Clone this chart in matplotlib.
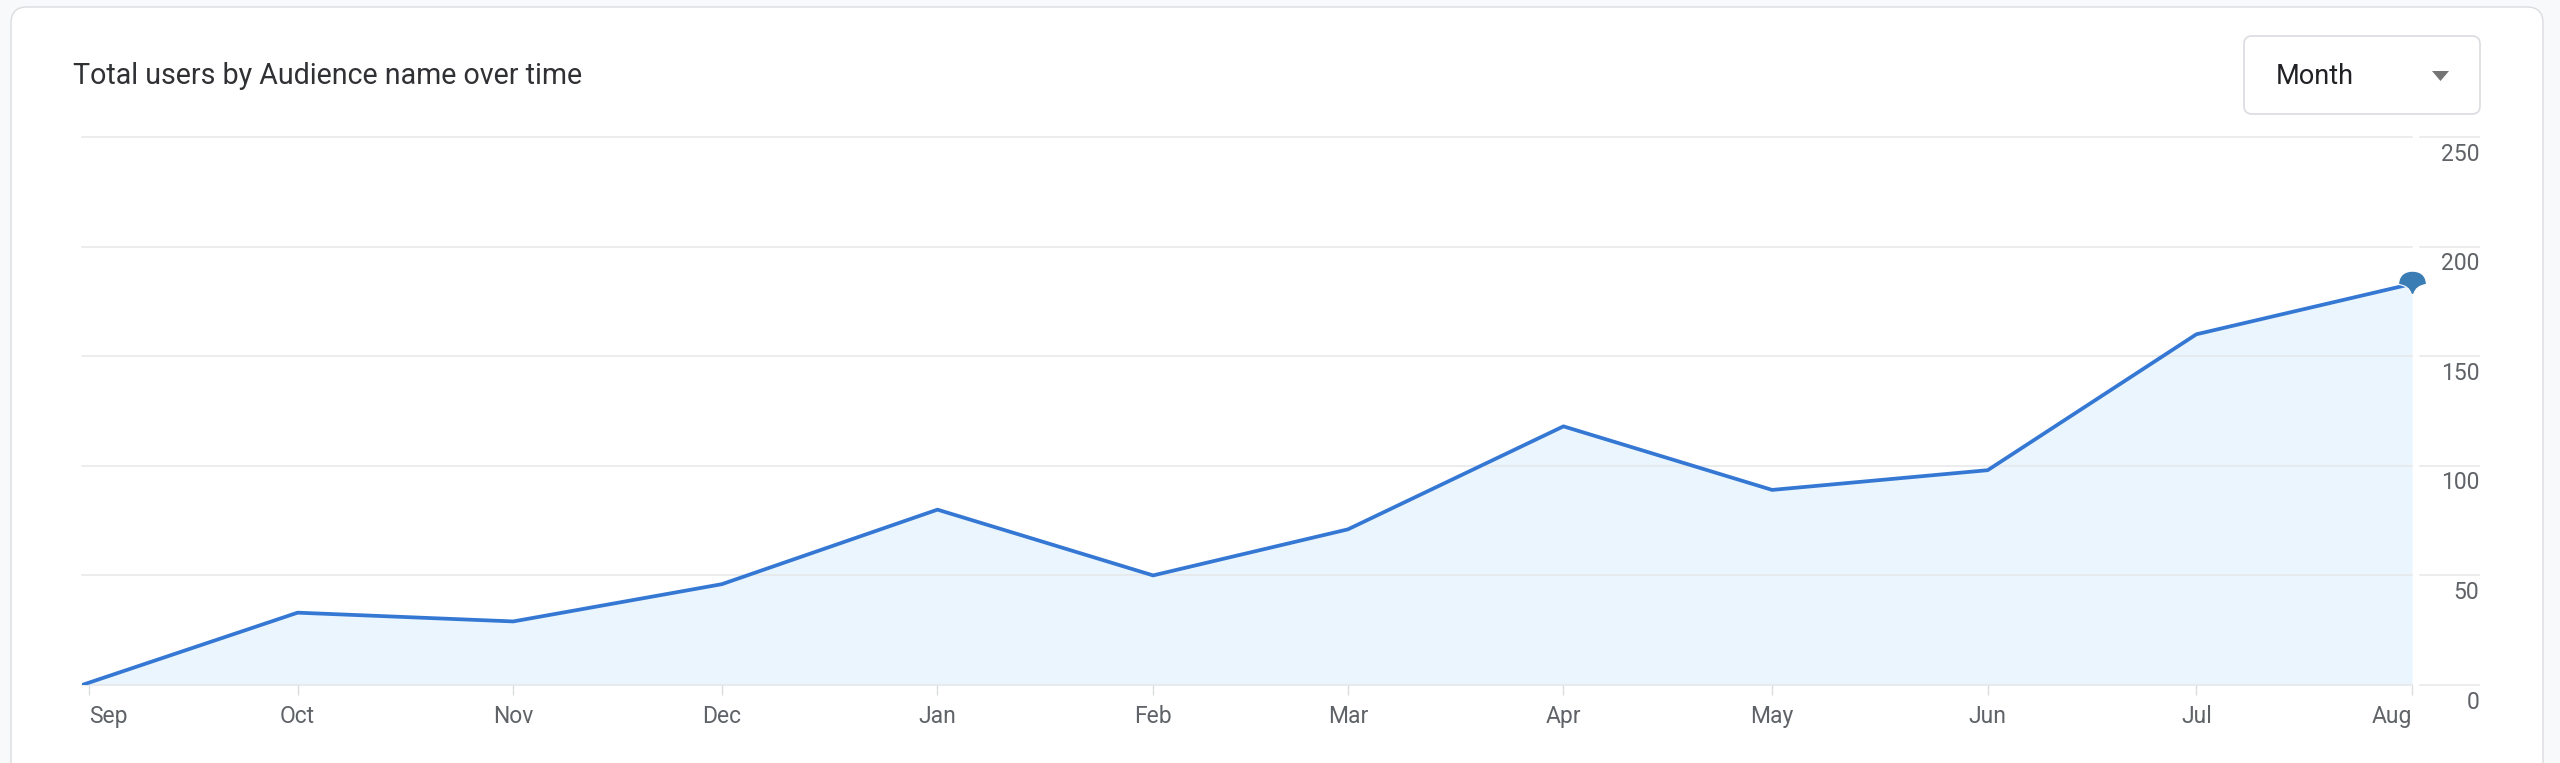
# -*- coding: utf-8 -*-
import numpy as np
import matplotlib
matplotlib.use('Agg')
import matplotlib.pyplot as plt
import matplotlib.dates as mdates
import matplotlib.transforms as mtransforms
from matplotlib.patches import FancyBboxPatch, Polygon
from matplotlib.path import Path

plt.rcParams['font.family'] = ['Roboto', 'DejaVu Sans']

# data (monthly buckets, first bucket starts on 31 Aug)
point_dates = ['2022-08-31', '2022-10-01', '2022-11-01', '2022-12-01',
               '2023-01-01', '2023-02-01', '2023-03-01', '2023-04-01',
               '2023-05-01', '2023-06-01', '2023-07-01', '2023-08-01']
users = [0, 33, 29, 46, 80, 50, 71, 118, 89, 98, 160, 183]

tick_dates = ['2022-09-01', '2022-10-01', '2022-11-01', '2022-12-01',
              '2023-01-01', '2023-02-01', '2023-03-01', '2023-04-01',
              '2023-05-01', '2023-06-01', '2023-07-01', '2023-08-01']
tick_labels = ['Sep', 'Oct', 'Nov', 'Dec', 'Jan', 'Feb', 'Mar', 'Apr',
               'May', 'Jun', 'Jul', 'Aug']
y_ticks = [0, 50, 100, 150, 200, 250]

title = 'Total users by Audience name over time'

x = mdates.datestr2num(point_dates)
xt = mdates.datestr2num(tick_dates)

W, H = 2560, 763
fig = plt.figure(figsize=(W / 100, H / 100), dpi=100)
fig.patch.set_facecolor('#f8f9fa')
ident = mtransforms.IdentityTransform()

# card (behind the axes)
card = FancyBboxPatch((11, -40), 2532, H - 7 + 40,
                      boxstyle='round,pad=0,rounding_size=16',
                      transform=ident, fc='white', ec='#dadce0', lw=1,
                      zorder=-5)
fig.add_artist(card)

# axes
ax = fig.add_axes([82 / W, 78 / H, 2330 / W, 548 / H])
ax.set_zorder(2)
ax.set_facecolor('none')
for s in ax.spines.values():
    s.set_visible(False)
ax.set_xlim(x[0], x[-1])
ax.set_ylim(0, 250)
ax.set_yticks([])

grid_c = '#e6e7e9'
trans = mtransforms.blended_transform_factory(ax.transAxes, ax.transData)
for v in y_ticks:
    ax.axhline(v, color=grid_c, lw=1.1, zorder=1.5, clip_on=False)
    ax.plot([1.0034, 1.0288], [v, v], transform=trans, color=grid_c,
            lw=1.1, clip_on=False)
    ax.annotate(str(v), xy=(1.0288, v), xycoords=trans, xytext=(0, -17),
                textcoords='offset points', ha='right', va='baseline',
                fontsize=16.5, color='#5f6368')

# area + line
ax.fill_between(x, users, 0, color='#eaf5fd', lw=0, zorder=1)
ax.plot(x, users, color='#3578d4', lw=2.7, zorder=3,
        solid_joinstyle='round', solid_capstyle='round')

# pin marker at the last point
pin = Path([(-12.5, 0), (-12.5, 9), (-6, 12), (0, 12),
            (6, 12), (12.5, 9), (12.5, 0),
            (3, -1), (1, -9),
            (-1, -9),
            (-3, -1), (-12.5, 0), (-12.5, 0)],
           [Path.MOVETO, Path.CURVE4, Path.CURVE4, Path.CURVE4,
            Path.CURVE4, Path.CURVE4, Path.CURVE4,
            Path.CURVE3, Path.CURVE3,
            Path.LINETO,
            Path.CURVE3, Path.CURVE3, Path.CLOSEPOLY])
ax.plot(x[-1:], users[-1:], marker=pin, ms=20, color='#3a7cb4',
        mec='white', mew=0.8, zorder=4, clip_on=False, ls='none')

# x ticks
ax.set_xticks(xt)
ax.set_xticklabels(tick_labels)
ax.tick_params(axis='x', length=7.2, width=1, color='#dadce0', pad=7,
               labelsize=16.5, labelcolor='#5f6368')
lbls = ax.get_xticklabels()
lbls[0].set_ha('left')
lbls[-1].set_ha('right')

# title
fig.text(73 / W, (H - 84) / H, title, fontsize=20.6, color='#303134',
         va='baseline')

# Month dropdown
box = FancyBboxPatch((2244, H - 114), 236, 78,
                     boxstyle='round,pad=0,rounding_size=8',
                     transform=ident, fc='white', ec='#dadce0', lw=1.2,
                     zorder=-4)
fig.add_artist(box)
fig.text(2276 / W, (H - 84) / H, 'Month', fontsize=19.5, color='#202124',
         va='baseline')
tri = Polygon([(2432, H - 71), (2449, H - 71), (2440.5, H - 81)],
              closed=True, transform=ident, fc='#757575', ec='none')
fig.add_artist(tri)

plt.savefig('out.png', dpi=100, facecolor=fig.get_facecolor())
plt.close()
